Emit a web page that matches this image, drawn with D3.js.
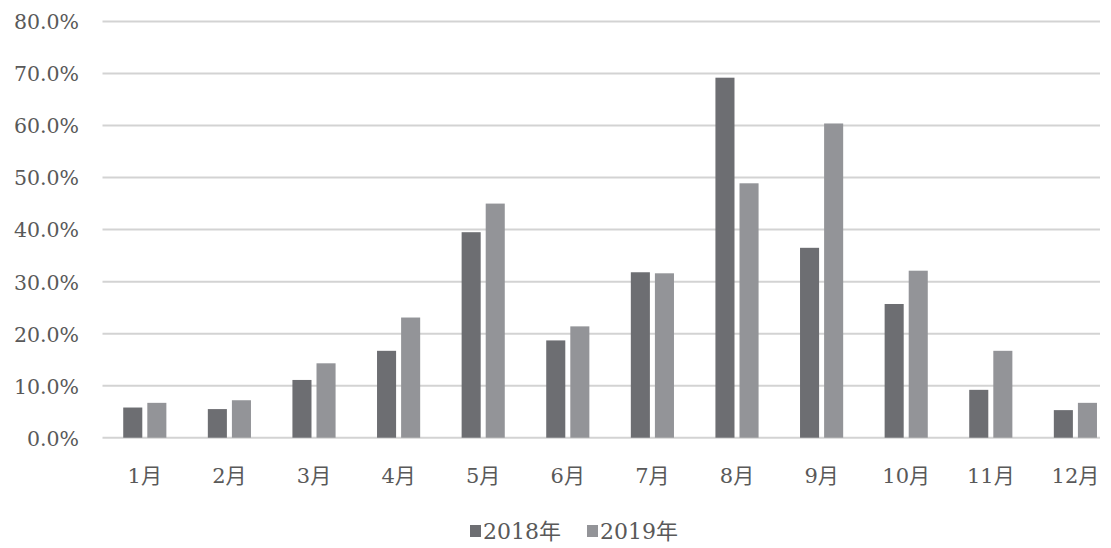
<!DOCTYPE html>
<html>
<head>
<meta charset="utf-8">
<script src="https://cdn.jsdelivr.net/npm/d3@7"></script>
<style>
  html, body { margin: 0; padding: 0; background: #ffffff; }
  svg { display: block; }
  text { font-family: "DejaVu Serif", "Noto Sans CJK SC", serif; fill: #595959; }
</style>
</head>
<body>
<svg id="chart" width="1111" height="548"></svg>
<script>
// Monthly share, 2018 vs 2019 (percent)
const months = ["1月", "2月", "3月", "4月", "5月", "6月", "7月", "8月", "9月", "10月", "11月", "12月"];
const seriesNames = ["2018年", "2019年"];
const values2018 = [5.8, 5.5, 11.1, 16.7, 39.5, 18.7, 31.8, 69.2, 36.5, 25.7, 9.2, 5.3];
const values2019 = [6.7, 7.2, 14.3, 23.1, 45.0, 21.4, 31.6, 48.9, 60.4, 32.1, 16.7, 6.7];
const yTicks = [0, 10, 20, 30, 40, 50, 60, 70, 80];
const colors = ["#6d6e72", "#939498"];

const svg = d3.select("#chart");

const plot = { left: 102.5, right: 1117.7, top: 21.5, bottom: 437.7 };

const y = d3.scaleLinear().domain([0, 80]).range([plot.bottom, plot.top]);

const x0 = d3.scaleBand()
  .domain(months)
  .range([plot.left, plot.right])
  .paddingInner(0.49)
  .paddingOuter(0.245);

const x1 = d3.scaleBand()
  .domain(seriesNames)
  .range([0, x0.bandwidth()])
  .paddingInner(5 / 24);

// Horizontal gridlines
svg.append("g")
  .selectAll("line")
  .data(yTicks)
  .join("line")
  .attr("x1", plot.left)
  .attr("x2", 1100)
  .attr("y1", d => y(d))
  .attr("y2", d => y(d))
  .attr("stroke", "#d3d3d3")
  .attr("stroke-width", 2);

// Y-axis labels
const yAxis = d3.axisLeft(y)
  .tickValues(yTicks)
  .tickFormat(d => d3.format(".1f")(d) + "%")
  .tickSize(0)
  .tickPadding(0);

svg.append("g")
  .attr("transform", "translate(79,0)")
  .call(yAxis)
  .call(g => g.select(".domain").remove())
  .call(g => g.selectAll("text")
    .attr("font-size", 20.5)
    .attr("dy", "0.36em")
    .style("font-family", "'DejaVu Serif', serif")
    .attr("fill", "#595959"));

// Bars
const rows = months.map((m, i) => ({ month: m, vals: [values2018[i], values2019[i]] }));

svg.append("g")
  .selectAll("g")
  .data(rows)
  .join("g")
  .attr("transform", d => `translate(${x0(d.month)},0)`)
  .selectAll("rect")
  .data(d => d.vals.map((v, k) => ({ key: seriesNames[k], v, k })))
  .join("rect")
  .attr("x", d => x1(d.key))
  .attr("width", x1.bandwidth())
  .attr("y", d => y(d.v))
  .attr("height", d => y(0) - y(d.v))
  .attr("fill", d => colors[d.k]);

// X-axis labels
const xAxis = d3.axisBottom(x0).tickSize(0).tickPadding(0);
svg.append("g")
  .attr("transform", `translate(0,${plot.bottom})`)
  .call(xAxis)
  .call(g => g.select(".domain").remove())
  .call(g => g.selectAll("text")
    .attr("y", 45)
    .attr("dy", "0")
    .attr("font-size", 21)
    .style("font-family", "'DejaVu Serif', 'Noto Sans CJK SC', serif")
    .attr("fill", "#595959"));

// Legend
const legend = svg.append("g").attr("transform", "translate(470,0)");
const legendX = [0, 117];
seriesNames.forEach((name, k) => {
  const g = legend.append("g").attr("transform", `translate(${legendX[k]},0)`);
  g.append("rect")
    .attr("x", 0).attr("y", 525)
    .attr("width", 11).attr("height", 12)
    .attr("fill", colors[k]);
  g.append("text")
    .attr("x", 13).attr("y", 539)
    .attr("font-size", 22)
    .text(name);
});
</script>
</body>
</html>
